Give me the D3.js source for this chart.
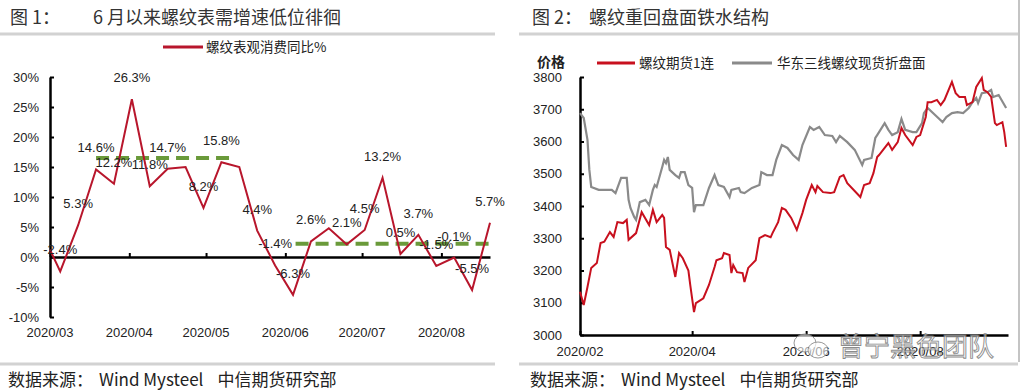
<!DOCTYPE html>
<html><head><meta charset="utf-8">
<script src="https://cdn.jsdelivr.net/npm/d3@7"></script>
<style>body{margin:0;background:#fff} svg{display:block}</style>
</head><body>
<svg id="c" width="1024" height="392"></svg>
<script>
// ---------- Left chart data ----------
const leftDates = ["2020-03-01","2020-03-05","2020-03-12","2020-03-19","2020-03-26","2020-04-02","2020-04-09","2020-04-16","2020-04-23","2020-04-30","2020-05-07","2020-05-14","2020-05-21","2020-05-28","2020-06-04","2020-06-11","2020-06-18","2020-06-25","2020-07-02","2020-07-09","2020-07-16","2020-07-23","2020-07-30","2020-08-06","2020-08-13","2020-08-20"];
const leftValues = [1.2,-2.4,5.3,14.6,12.2,26.3,11.8,14.7,15.0,8.2,15.8,15.0,4.4,-1.4,-6.3,2.6,4.8,2.1,4.5,13.2,0.5,3.7,-1.5,-0.1,-5.5,5.7];
const leftLabels = ["","-2.4%","5.3%","14.6%","12.2%","26.3%","11.8%","14.7%","","8.2%","15.8%","","4.4%","-1.4%","-6.3%","2.6%","","2.1%","4.5%","13.2%","0.5%","3.7%","-1.5%","-0.1%","-5.5%","5.7%"];
const levelStarts = ["2020-03-19","2020-06-05"];
const levelEnds = ["2020-05-12","2020-08-21"];
const levelValues = [16.5, 2.2];
const leftYTicks = [-10,-5,0,5,10,15,20,25,30];
const leftXTicks = ["2020-03-01","2020-04-01","2020-05-01","2020-06-01","2020-07-01","2020-08-01"];
const leftXTickLabels = ["2020/03","2020/04","2020/05","2020/06","2020/07","2020/08"];

// ---------- Right chart data ----------
const futDates = ["02-01","02-03","02-05","02-07","02-10","02-12","02-14","02-17","02-19","02-21","02-24","02-26","02-27","03-02","03-05","03-09","03-11","03-13","03-16","03-17","03-18","03-20","03-23","03-25","03-27","03-30","03-31","04-02","04-03","04-07","04-10","04-13","04-14","04-17","04-18","04-21","04-22","04-23","04-25","04-28","04-29","05-01","05-05","05-07","05-10","05-13","05-14","05-17","05-19","05-21","05-24","05-27","05-30","06-01","06-04","06-06","06-07","06-10","06-14","06-16","06-19","06-21","06-23","06-30","07-02","07-05","07-07","07-09","07-10","07-13","07-15","07-17","07-20","07-22","07-24","07-28","07-30","08-01","08-04","08-05","08-07","08-10","08-12","08-14","08-18","08-20","08-22","08-25","08-26","08-29","08-31","09-03","09-04","09-06","09-08","09-10","09-11","09-14","09-15","09-16"];
const futValues = [3134,3093,3149,3208,3223,3285,3289,3319,3304,3350,3347,3357,3295,3316,3381,3341,3388,3350,3372,3363,3273,3264,3180,3254,3238,3200,3155,3071,3099,3114,3155,3211,3232,3238,3254,3248,3192,3217,3195,3192,3164,3208,3232,3300,3310,3303,3316,3350,3394,3388,3363,3326,3378,3419,3465,3443,3462,3443,3440,3443,3490,3496,3471,3428,3465,3471,3502,3552,3558,3580,3595,3574,3598,3642,3620,3589,3614,3620,3676,3722,3722,3729,3713,3729,3785,3750,3738,3738,3713,3722,3769,3797,3760,3753,3738,3657,3651,3660,3629,3583];
const spotDates = ["02-01","02-03","02-05","02-06","02-07","02-11","02-18","02-20","02-23","02-26","02-27","02-28","03-01","03-02","03-04","03-07","03-09","03-11","03-12","03-13","03-16","03-17","03-18","03-19","03-20","03-23","03-25","03-26","03-28","03-30","04-01","04-02","04-03","04-07","04-10","04-13","04-15","04-18","04-21","04-22","04-26","04-27","04-29","05-03","05-07","05-08","05-11","05-14","05-16","05-19","05-22","05-25","05-28","05-30","06-03","06-05","06-08","06-11","06-15","06-17","06-19","06-23","06-27","07-01","07-02","07-06","07-08","07-09","07-13","07-15","07-17","07-20","07-22","07-24","07-28","07-30","08-02","08-03","08-05","08-09","08-13","08-15","08-18","08-21","08-24","08-27","08-29","08-31","09-01","09-03","09-06","09-08","09-09","09-12","09-16"];
const spotValues = [3688,3673,3605,3512,3459,3450,3450,3440,3487,3487,3419,3394,3366,3357,3412,3419,3403,3450,3465,3459,3521,3543,3533,3552,3512,3496,3487,3505,3505,3465,3456,3381,3403,3403,3456,3496,3465,3459,3428,3450,3456,3443,3440,3456,3465,3505,3496,3496,3543,3589,3580,3558,3543,3589,3645,3636,3645,3620,3617,3598,3617,3598,3574,3527,3543,3549,3611,3620,3657,3636,3620,3629,3670,3636,3629,3629,3657,3688,3704,3682,3660,3676,3688,3691,3688,3704,3722,3735,3719,3750,3753,3760,3738,3744,3704];
const rightYTicks = [3000,3100,3200,3300,3400,3500,3600,3700,3800];
const rightXTicks = ["2020-02-01","2020-04-01","2020-06-01","2020-08-01"];
const rightXTickLabels = ["2020/02","2020/04","2020/06","2020/08"];

// ---------- drawing ----------
const parse = d3.timeParse("%Y-%m-%d");
const svg = d3.select("#c");
const CJK = "'Noto Sans CJK SC','Noto Sans',sans-serif";
const LAT = "'Liberation Sans',Arial,sans-serif";

function panelFrame(x0, x1, fig, title, titleX) {
  svg.append("line").attr("x1", x0).attr("x2", x1).attr("y1", 34).attr("y2", 34)
    .attr("stroke", "#d2d2d2").attr("stroke-width", 3);
  svg.append("line").attr("x1", x0).attr("x2", x1).attr("y1", 364).attr("y2", 364)
    .attr("stroke", "#d2d2d2").attr("stroke-width", 3);
  svg.append("text").attr("x", fig[1]).attr("y", 24).attr("font-family", CJK)
    .attr("font-size", 18).attr("fill", "#333").text(fig[0]);
  svg.append("text").attr("x", titleX).attr("y", 24).attr("font-family", CJK)
    .attr("font-size", 18).attr("fill", "#333").text(title);
  const src = svg.append("text").attr("x", fig[1] - 2).attr("y", 386).attr("font-family", CJK)
    .attr("font-size", 17).attr("fill", "#222");
  src.append("tspan").text("数据来源：");
  src.append("tspan").attr("dx", 6).text("Wind Mysteel");
  src.append("tspan").attr("dx", 14).text("中信期货研究部");
}
panelFrame(0, 495, ["图 1：", 10], "6 月以来螺纹表需增速低位徘徊", 93);
panelFrame(519, 1018, ["图 2：", 532], "螺纹重回盘面铁水结构", 589);
svg.append("line").attr("x1", 1019).attr("x2", 1019).attr("y1", 0).attr("y2", 362)
  .attr("stroke", "#c4c4c4").attr("stroke-width", 2);

// ---- LEFT ----
const xL = d3.scaleTime().domain([parse("2020-03-01"), parse("2020-08-20")]).range([50, 490]);
const yL = d3.scaleLinear().domain([-10, 30]).range([317, 77]);
const gL = svg.append("g");

const yAxL = gL.append("g").attr("transform", "translate(50,0)")
  .call(d3.axisLeft(yL).tickValues(leftYTicks).tickSize(-4).tickSizeOuter(0).tickPadding(11)
    .tickFormat(d => d + "%"));
yAxL.select(".domain").attr("stroke", "#000").attr("stroke-width", 2.5);
yAxL.selectAll(".tick line").attr("stroke", "#000").attr("stroke-width", 2);
yAxL.selectAll("text").attr("font-family", LAT).attr("font-size", 13).attr("fill", "#222");

const xAxL = gL.append("g").attr("transform", `translate(0,${yL(0)})`)
  .call(d3.axisBottom(xL).tickValues(leftXTicks.map(parse)).tickSize(-4).tickSizeOuter(0).tickFormat(""));
xAxL.select(".domain").attr("stroke", "#000").attr("stroke-width", 2.5);
xAxL.selectAll(".tick line").attr("stroke", "#000").attr("stroke-width", 2);

gL.selectAll("text.xl").data(leftXTicks).enter().append("text").attr("class", "xl")
  .attr("x", d => xL(parse(d))).attr("y", 337).attr("text-anchor", "middle")
  .attr("font-family", LAT).attr("font-size", 13).attr("fill", "#222")
  .text((d, i) => leftXTickLabels[i]);

gL.selectAll("line.lvl").data(levelValues).enter().append("line").attr("class", "lvl")
  .attr("x1", (d, i) => xL(parse(levelStarts[i]))).attr("x2", (d, i) => xL(parse(levelEnds[i])))
  .attr("y1", d => yL(d)).attr("y2", d => yL(d))
  .attr("stroke", "#6a9a3a").attr("stroke-width", 4).attr("stroke-dasharray", "13,7");

const leftPts = leftDates.map((d, i) => ({ x: parse(d), v: leftValues[i], l: leftLabels[i] }));
gL.append("path").datum(leftPts)
  .attr("d", d3.line().x(d => xL(d.x)).y(d => yL(d.v)))
  .attr("fill", "none").attr("stroke", "#b8162c").attr("stroke-width", 2);

gL.selectAll("text.dl").data(leftPts.filter(d => d.l)).enter().append("text").attr("class", "dl")
  .attr("x", d => xL(d.x)).attr("y", d => yL(d.v) - 17).attr("text-anchor", "middle")
  .attr("font-family", LAT).attr("font-size", 13).attr("fill", "#222").text(d => d.l);

svg.append("line").attr("x1", 163).attr("x2", 203).attr("y1", 47).attr("y2", 47)
  .attr("stroke", "#b8162c").attr("stroke-width", 3);
svg.append("text").attr("x", 206).attr("y", 52).attr("font-family", CJK).attr("font-size", 13.5)
  .attr("fill", "#222").text("螺纹表观消费同比%");

// ---- RIGHT ----
const xR = d3.scaleTime().domain([parse("2020-02-01"), parse("2020-09-17")]).range([580, 1008]);
const yR = d3.scaleLinear().domain([3000, 3800]).range([335, 77]);
const gR = svg.append("g");

const yAxR = gR.append("g").attr("transform", "translate(580,0)")
  .call(d3.axisLeft(yR).tickValues(rightYTicks).tickSize(-4).tickSizeOuter(0).tickPadding(18)
    .tickFormat(d3.format("d")));
yAxR.select(".domain").attr("stroke", "#000").attr("stroke-width", 2.5);
yAxR.selectAll(".tick line").attr("stroke", "#000").attr("stroke-width", 2);
yAxR.selectAll("text").attr("font-family", LAT).attr("font-size", 13).attr("fill", "#222");

const xAxR = gR.append("g").attr("transform", "translate(0,335)")
  .call(d3.axisBottom(xR).tickValues(rightXTicks.map(parse)).tickSize(-4).tickSizeOuter(0).tickFormat(""));
xAxR.select(".domain").attr("stroke", "#000").attr("stroke-width", 2.5);
xAxR.selectAll(".tick line").attr("stroke", "#000").attr("stroke-width", 2);

gR.selectAll("text.xr").data(rightXTicks).enter().append("text").attr("class", "xr")
  .attr("x", d => xR(parse(d))).attr("y", 356).attr("text-anchor", "middle")
  .attr("font-family", LAT).attr("font-size", 13).attr("fill", "#222")
  .text((d, i) => rightXTickLabels[i]);

const lineR = d3.line().x(d => xR(d.x)).y(d => yR(d.v));
const spotPts = spotDates.map((d, i) => ({ x: parse("2020-" + d), v: spotValues[i] }));
const futPts = futDates.map((d, i) => ({ x: parse("2020-" + d), v: futValues[i] }));
gR.append("path").datum(spotPts).attr("d", lineR).attr("fill", "none")
  .attr("stroke", "#8a8a8a").attr("stroke-width", 2.2);
gR.append("path").datum(futPts).attr("d", lineR).attr("fill", "none")
  .attr("stroke", "#c8101e").attr("stroke-width", 2);

svg.append("text").attr("x", 537).attr("y", 67).attr("font-family", CJK).attr("font-size", 14)
  .attr("font-weight", "bold").attr("fill", "#222").text("价格");
svg.append("line").attr("x1", 597).attr("x2", 635).attr("y1", 63).attr("y2", 63)
  .attr("stroke", "#c8101e").attr("stroke-width", 3);
svg.append("text").attr("x", 639).attr("y", 68).attr("font-family", CJK).attr("font-size", 13.5)
  .attr("fill", "#222").text("螺纹期货1连");
svg.append("line").attr("x1", 732).attr("x2", 772).attr("y1", 63).attr("y2", 63)
  .attr("stroke", "#8a8a8a").attr("stroke-width", 3);
svg.append("text").attr("x", 777).attr("y", 68).attr("font-family", CJK).attr("font-size", 13.5)
  .attr("fill", "#222").text("华东三线螺纹现货折盘面");

// watermark
const wm = svg.append("g").attr("opacity", 0.85);
wm.append("ellipse").attr("cx", 805).attr("cy", 343).attr("rx", 11).attr("ry", 9)
  .attr("fill", "rgba(255,255,255,0.7)").attr("stroke", "#888").attr("stroke-width", 1);
wm.append("ellipse").attr("cx", 818).attr("cy", 350).attr("rx", 10).attr("ry", 8)
  .attr("fill", "rgba(255,255,255,0.7)").attr("stroke", "#888").attr("stroke-width", 1);
wm.append("text").attr("x", 838).attr("y", 356).attr("font-family", CJK).attr("font-size", 26)
  .attr("fill", "rgba(255,255,255,0.75)").attr("stroke", "#777").attr("stroke-width", 0.9)
  .text("曾宁黑色团队");
</script>
</body></html>
